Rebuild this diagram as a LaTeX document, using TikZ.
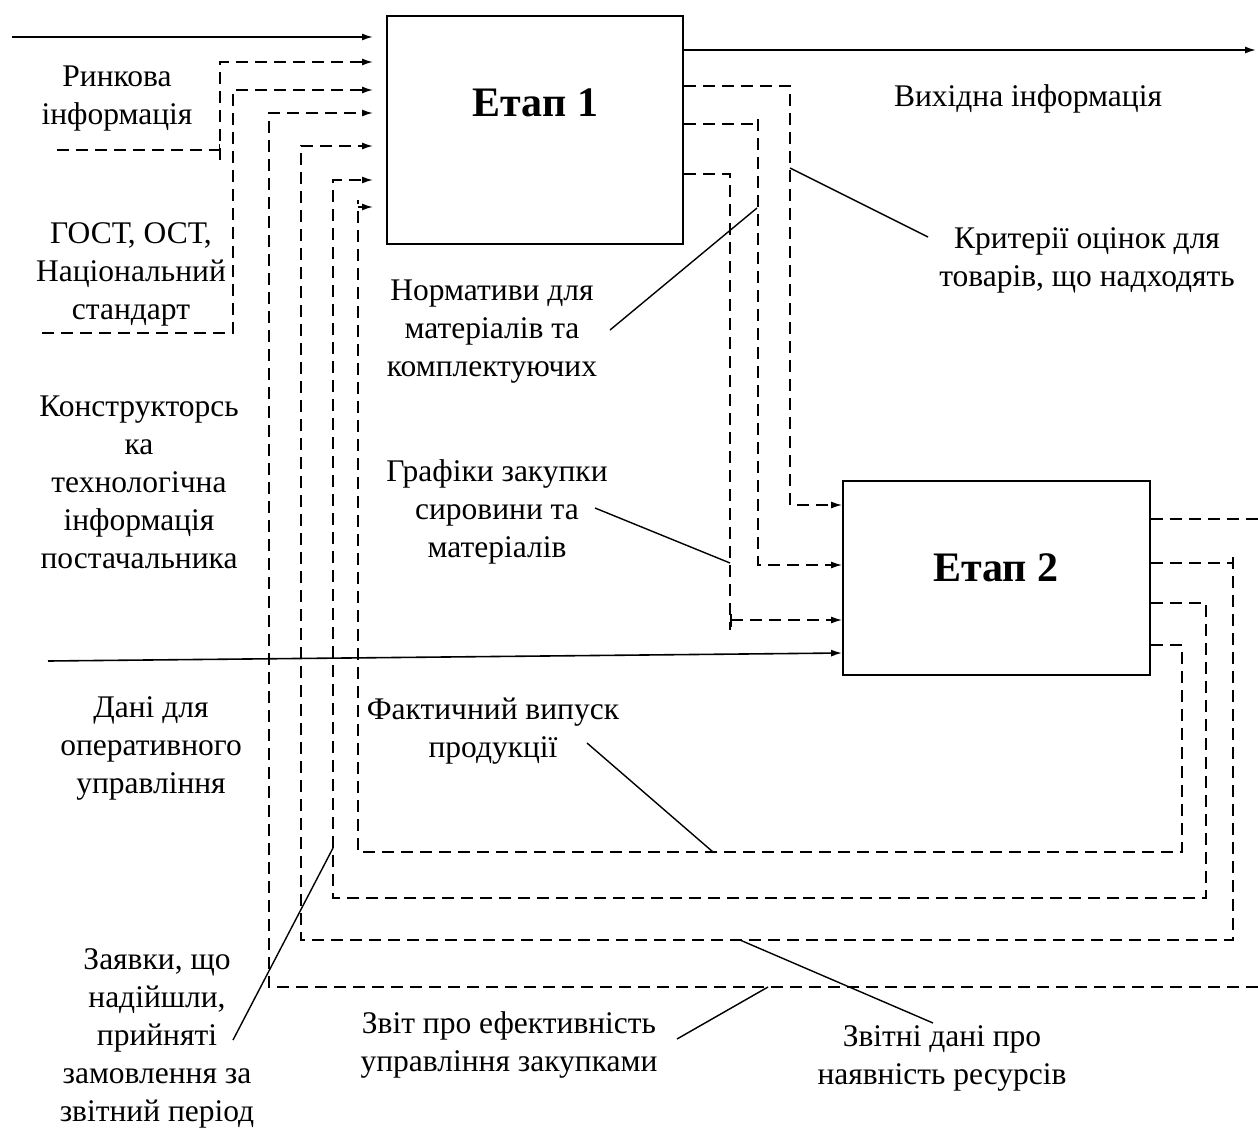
\documentclass[tikz,border=0pt]{standalone}
\usepackage{fontspec}
\setmainfont{Liberation Serif}
\newfontfamily\tnr{Liberation Serif}
\usetikzlibrary{arrows.meta}
\begin{document}
\begin{tikzpicture}[x=1pt,y=-1pt,
  box/.style={draw,line width=1.8pt,inner sep=0pt},
  title/.style={font=\tnr\fontsize{42}{50}\selectfont\bfseries,inner sep=0pt},
  lbl/.style={align=center,font=\tnr\fontsize{31.5}{38}\selectfont,inner sep=0pt},
  sol/.style={line width=1.6pt},
  dsh/.style={line width=1.5pt,dash pattern=on 12pt off 7pt},
  call/.style={line width=1.4pt},
  arr/.style={-{Latex[length=11pt,width=7pt]}},
  bararr/.style={{Bar[width=13pt]}-{Latex[length=11pt,width=7pt]}},
  endbar/.style={-{Bar[width=13pt]}}]
\fill[white] (0,0) rectangle (1258,1127);
\useasboundingbox (0,0) rectangle (1258,1127);

% boxes
\node[box,minimum width=296pt,minimum height=228pt] (e1) at (535,130) {};
\node[box,minimum width=307pt,minimum height=194pt] (e2) at (996.5,578) {};
\node[title] (t1) at (535.5,103) {Етап 1};
\node[title] (t2) at (996,568) {Етап 2};

% named free ends
\coordinate (inA) at (12,37);
\coordinate (rS) at (57,150);
\coordinate (rC) at (220,150);
\coordinate (gS) at (42,333);
\coordinate (edgeB) at (1258,987);
\coordinate (edgeT) at (1258,519);
\coordinate (outR) at (1256,50);
\coordinate (inE2) at (48,661);
\coordinate (e1A) at (373,37);
\coordinate (e1B) at (373,62);
\coordinate (e1C) at (373,90);
\coordinate (e1D) at (373,113);
\coordinate (e1E) at (373,146);
\coordinate (e1F) at (373,180);
\coordinate (e1G) at (373,207);

% inputs of Etap 1
\draw[sol,arr] (inA) -- (e1A);
\draw[dsh,endbar] (rS) -- (rC);
\draw[dsh,arr] ([yshift=-10pt]rC) -- (rC |- e1B) -- (e1B);
\draw[dsh,arr] (gS) -- (233,333) -- (233,90) -- (e1C);
\draw[dsh,arr] (edgeB) -- (269,987) -- (269,113) -- (e1D);

% feedback loops from Etap 2
\draw[dsh] (e2.east |- 0,563) -- (1233,563);
\draw[dsh,arr] (1233,557) -- (1233,940) -- (301,940) -- (301,146) -- (e1E);
\draw[dsh,arr] (e2.east |- 0,603) -- (1206,603) -- (1206,898) -- (333,898) -- (333,180) -- (e1F);
\draw[dsh] (e2.east |- 0,645) -- (1182,645) -- (1182,852) -- (358,852) -- (358,200);
\draw[dsh,arr] (358,207) -- (e1G);
\draw[dsh] (e2.east |- 0,519) -- (edgeT);

% outputs of Etap 1
\draw[sol,arr] (e1.east |- outR) -- (outR);
\draw[dsh,arr] (e1.east |- 0,86) -- (790,86) -- (790,505) -- (e2.west |- 0,505);
\draw[dsh] (e1.east |- 0,124) -- (758,124);
\draw[dsh,arr] (758,119) -- (758,565) -- (e2.west |- 0,565);
\draw[dsh] (e1.east |- 0,174) -- (730,174) -- (730,630);
\draw[dsh,bararr] (730,620) -- (e2.west |- 0,620);
\draw[sol,arr] (inE2) -- (e2.west |- 0,653);

% labels
\node[lbl] (rynk) at (117,99) {Ринкова\\інформація};
\node[lbl] (gost) at (131,274) {ГОСТ, ОСТ,\\Національний\\стандарт};
\node[lbl] (konstr) at (139,482) {Конструкторсь\\ка\\технологічна\\інформація\\постачальника};
\node[lbl] (dani) at (151,748) {Дані для\\оперативного\\управління};
\node[lbl] (zayav) at (157,1038) {Заявки, що\\надійшли,\\прийняті\\замовлення за\\звітний період};
\node[lbl] (norm) at (492,332) {Нормативи для\\матеріалів та\\комплектуючих};
\node[lbl] (hraf) at (497,512) {Графіки закупки\\сировини та\\матеріалів};
\node[lbl] (fakt) at (493,731) {Фактичний випуск\\продукції};
\node[lbl] (zvit) at (509,1045) {Звіт про ефективність\\управління закупками};
\node[lbl] (zvitni) at (942,1058) {Звітні дані про\\наявність ресурсів};
\node[lbl] (vykh) at (1028,99) {Вихідна інформація};
\node[lbl] (kryt) at (1087,260) {Критерії оцінок для\\товарів, що надходять};

% callout lines
\draw[call] (790,168) -- (928,237);
\draw[call] (757,208) -- (610,330);
\draw[call] (730,563) -- (595,508);
\draw[call] (713,852) -- (587,743);
\draw[call] (740,940) -- (933,1023);
\draw[call] (768,987) -- (677,1039);
\draw[call] (333,848) -- (233,1040);
\end{tikzpicture}
\end{document}
